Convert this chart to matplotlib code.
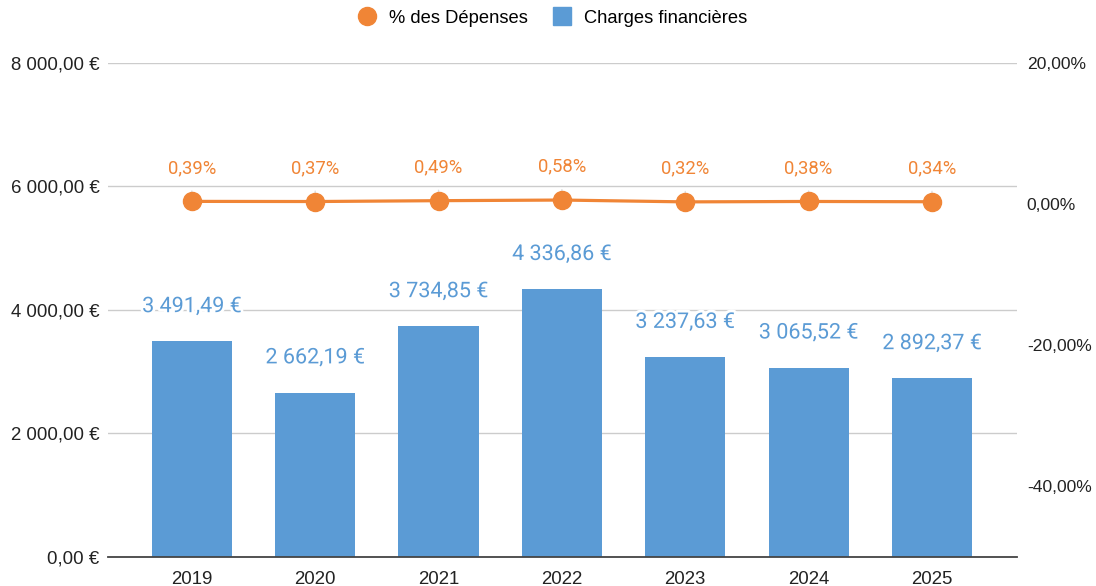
import matplotlib
matplotlib.use('Agg')
import matplotlib.pyplot as plt
import matplotlib.patheffects as pe
from matplotlib.lines import Line2D
from matplotlib.ticker import FuncFormatter
import numpy as np

years = ["2019", "2020", "2021", "2022", "2023", "2024", "2025"]
charges = [3491.49, 2662.19, 3734.85, 4336.86, 3237.63, 3065.52, 2892.37]
pct_depenses = [0.39, 0.37, 0.49, 0.58, 0.32, 0.38, 0.34]

BLUE = "#5B9BD5"
ORANGE = "#F08536"
TICK_FONT = "Liberation Sans"
LABEL_FONT = "Roboto"


def fmt_eur(v):
    return f"{v:,.2f}".replace(",", " ").replace(".", ",") + " €"


def fmt_pct(v):
    return f"{v:.2f}".replace(".", ",") + "%"


fig = plt.figure(figsize=(10.96, 5.86), dpi=100)
ax = fig.add_axes([0.0985, 0.0495, 0.8295, 0.843])
ax2 = ax.twinx()

x = np.arange(len(years))
bars = ax.bar(x, charges, width=0.65, color=BLUE, zorder=2)
ax.set_xlim(-0.68, len(years) - 1 + 0.69)
ax.set_ylim(0, 8000)
ax.set_yticks([0, 2000, 4000, 6000, 8000])
ax.yaxis.set_major_formatter(FuncFormatter(lambda v, p: fmt_eur(v)))
ax.grid(axis="y", color="#cccccc", linewidth=1, zorder=0)
ax.set_axisbelow(True)
ax.set_xticks(x)
ax.set_xticklabels(years)

for s in ["top", "left", "right"]:
    ax.spines[s].set_visible(False)
    ax2.spines[s].set_visible(False)
ax2.spines["bottom"].set_visible(False)
ax.spines["bottom"].set_color("#444444")
ax.spines["bottom"].set_linewidth(1.3)
ax.spines["bottom"].set_zorder(3)

ax.tick_params(axis="both", length=0, labelsize=13.4, colors="#222222")
ax.tick_params(axis="y", pad=6)
ax.tick_params(axis="x", pad=10)
for lbl in ax.get_xticklabels() + ax.get_yticklabels():
    lbl.set_fontfamily(TICK_FONT)

halo = [pe.withStroke(linewidth=4, foreground="white")]
for xi, v in zip(x, charges):
    ax.annotate(fmt_eur(v), (xi, v), xytext=(0, 25), textcoords="offset points",
                ha="center", va="center", fontsize=15.5, color=BLUE,
                family=LABEL_FONT, path_effects=halo, zorder=4)

# right axis: percentage line
ax2.set_ylim(-50, 20)
ax2.set_yticks([-40, -20, 0, 20])
ax2.yaxis.set_major_formatter(FuncFormatter(lambda v, p: fmt_pct(v)))
ax2.tick_params(axis="y", length=0, labelsize=12.6, colors="#222222", pad=7)
for lbl in ax2.get_yticklabels():
    lbl.set_fontfamily(TICK_FONT)
ax2.plot(x, pct_depenses, color=ORANGE, linewidth=2.3, marker="o",
         markersize=13, zorder=5)
for xi, v in zip(x, pct_depenses):
    ax2.annotate(fmt_pct(v), (xi, v), xytext=(0, 24), textcoords="offset points",
                 ha="center", va="center", fontsize=13.3, color=ORANGE,
                 family=LABEL_FONT,
                 arrowprops=dict(arrowstyle="-", color="#dddddd", lw=1,
                                 shrinkA=8, shrinkB=8))

handles = [
    Line2D([], [], marker="o", linestyle="none", color=ORANGE, markersize=13),
    Line2D([], [], marker="s", linestyle="none", color=BLUE, markersize=13),
]
fig.legend(handles, ["% des Dépenses", "Charges financières"], loc="center",
           bbox_to_anchor=(0.5, 0.969), ncol=2, frameon=False,
           prop={"family": TICK_FONT, "size": 13.2}, handletextpad=0.2,
           columnspacing=0.9)

fig.savefig("out.png", dpi=100)
